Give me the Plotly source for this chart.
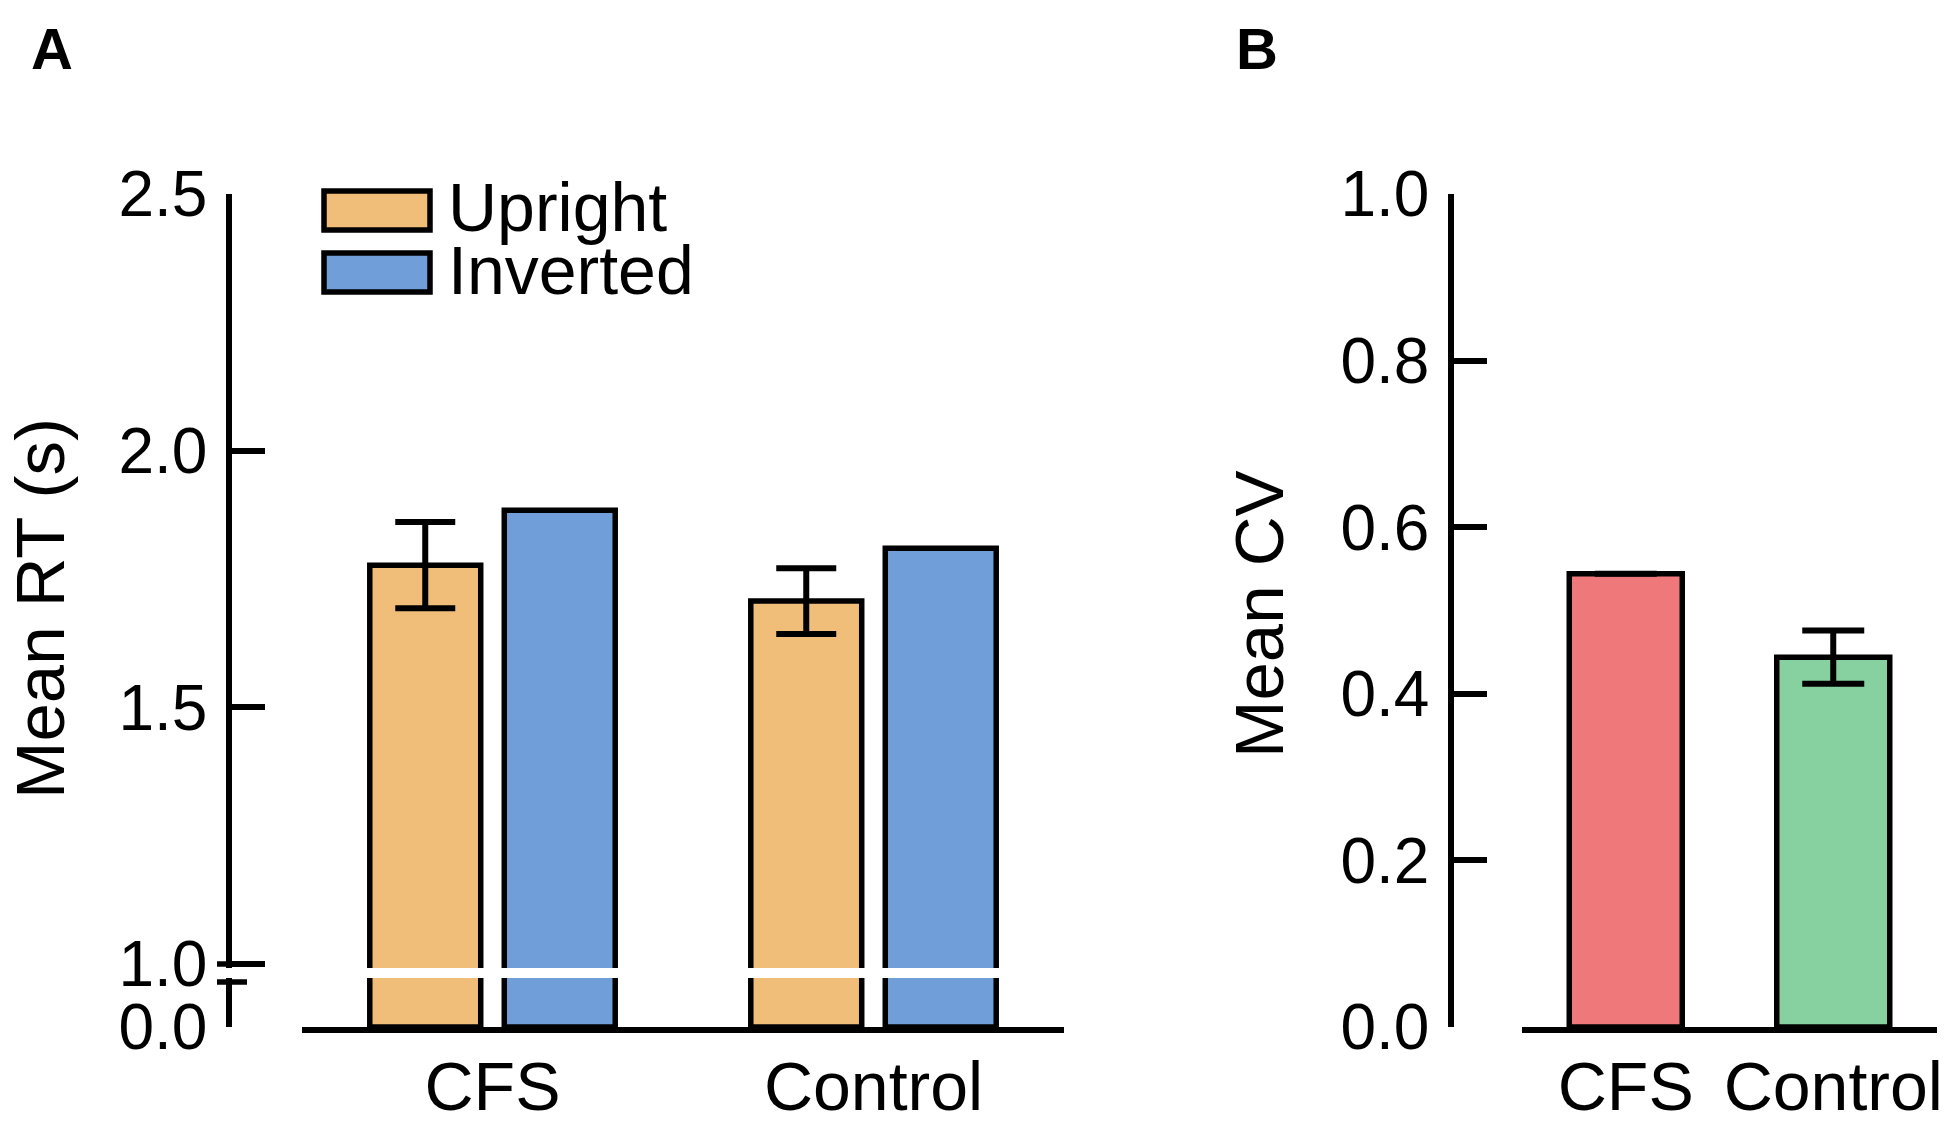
import plotly.graph_objects as go

# ---------------- data ----------------
groups_a = ["CFS", "Control"]
upright_rt = [1.777, 1.707]
upright_err = [0.084, 0.064]
inverted_rt = [1.884, 1.810]

groups_b = ["CFS", "Control"]
cv_values = [0.544, 0.444]
cv_err = [0.0, 0.032]

ytick_a_upper = [1.0, 1.5, 2.0, 2.5]
ytick_a_lower = [0.0]
ytick_b = [0.0, 0.2, 0.4, 0.6, 0.8, 1.0]

# ---------------- style ----------------
OFF = 8  # default page body margin
W, H = 1960 - 2 * OFF, 1125 - 2 * OFF
FONT = "Liberation Sans, Arial, Helvetica, sans-serif"
ORANGE = "#F1BE7A"
BLUE = "#6F9ED9"
RED = "#EF787B"
GREEN = "#87D1A1"
LW = 5.5


def px(x):
    return (x - OFF) / W


def py(y):
    return 1 - (y - OFF) / H


fig = go.Figure()

bar_line = dict(color="black", width=LW)
err_style = dict(type="data", color="black", thickness=6, width=30)

# Panel A - upper part of broken axis
fig.add_trace(go.Bar(x=groups_a, y=upright_rt, name="Upright", marker=dict(color=ORANGE, line=bar_line),
                     error_y=dict(array=upright_err, **err_style), xaxis="x2", yaxis="y2", showlegend=False))
fig.add_trace(go.Bar(x=groups_a, y=inverted_rt, name="Inverted", marker=dict(color=BLUE, line=bar_line),
                     xaxis="x2", yaxis="y2", showlegend=False))
# Panel A - lower part of broken axis
fig.add_trace(go.Bar(x=groups_a, y=upright_rt, name="Upright", marker=dict(color=ORANGE, line=bar_line),
                     xaxis="x", yaxis="y", showlegend=False))
fig.add_trace(go.Bar(x=groups_a, y=inverted_rt, name="Inverted", marker=dict(color=BLUE, line=bar_line),
                     xaxis="x", yaxis="y", showlegend=False))
# Panel B
fig.add_trace(go.Bar(x=groups_b, y=cv_values, marker=dict(color=[RED, GREEN], line=bar_line),
                     error_y=dict(array=cv_err, type="data", color="black", thickness=6, width=31,
                                  visible=True),
                     xaxis="x3", yaxis="y3", showlegend=False, width=113 / 207.5))

axis_common = dict(showgrid=False, zeroline=False, showline=True, linecolor="black", linewidth=LW,
                   automargin=False)
ytick_common = dict(ticks="inside", ticklen=33, tickwidth=LW, tickcolor="black",
                    tickfont=dict(family=FONT, size=64, color="black"), ticklabelstandoff=6)
xtick_common = dict(ticks="", tickfont=dict(family=FONT, size=68, color="black"), ticklabelstandoff=-4)

upper_lo = 2.5 - (968 - 194) / ((964 - 194) / 1.5)

fig.update_layout(
    template="none",
    width=W, height=H, autosize=False,
    margin=dict(l=0, r=0, t=0, b=0, pad=0),
    paper_bgcolor="white", plot_bgcolor="white",
    barmode="group", bargap=0.294, bargroupgap=0.175,
    font=dict(family=FONT, color="black"),
    showlegend=False,
    xaxis=dict(domain=[px(302), px(1064)], anchor="y", **axis_common, **xtick_common),
    yaxis=dict(domain=[py(1027), py(978)], range=[0, 0.1], anchor="free", position=px(229),
               tickvals=ytick_a_lower, ticktext=[f"{v:.1f}" for v in ytick_a_lower],
               **axis_common, **ytick_common),
    xaxis2=dict(domain=[px(302), px(1064)], anchor="y2", matches="x", visible=False),
    yaxis2=dict(domain=[py(968), py(194)], range=[upper_lo, 2.5], anchor="free", position=px(229),
                tickvals=ytick_a_upper, ticktext=[f"{v:.1f}" for v in ytick_a_upper],
                **axis_common, **ytick_common),
    xaxis3=dict(domain=[px(1522), px(1937)], anchor="y3", **axis_common, **xtick_common),
    yaxis3=dict(domain=[py(1027), py(194)], range=[0, 1.0], anchor="free", position=px(1451),
                tickvals=ytick_b, ticktext=[f"{v:.1f}" for v in ytick_b],
                **axis_common, **ytick_common),
)

shapes = [
    # axis break marks
    dict(type="line", xref="paper", yref="paper", x0=px(217), x1=px(232), y0=py(964), y1=py(964),
         line=dict(color="black", width=LW)),
    dict(type="line", xref="paper", yref="paper", x0=px(217), x1=px(247), y0=py(982), y1=py(982),
         line=dict(color="black", width=LW)),
    # legend swatches
    dict(type="rect", xref="paper", yref="paper", x0=px(324), x1=px(430), y0=py(191), y1=py(230),
         fillcolor=ORANGE, line=dict(color="black", width=LW)),
    dict(type="rect", xref="paper", yref="paper", x0=px(324), x1=px(430), y0=py(253), y1=py(292),
         fillcolor=BLUE, line=dict(color="black", width=LW)),
]

annotations = [
    dict(text="Upright", x=px(446), y=py(207), xref="paper", yref="paper", xanchor="left", yanchor="middle",
         showarrow=False, font=dict(family=FONT, size=68, color="black")),
    dict(text="Inverted", x=px(446), y=py(270), xref="paper", yref="paper", xanchor="left", yanchor="middle",
         showarrow=False, font=dict(family=FONT, size=68, color="black")),
    dict(text="Mean RT (s)", x=px(40), y=py(609), xref="paper", yref="paper", xanchor="center",
         yanchor="middle", textangle=-90, showarrow=False, font=dict(family=FONT, size=69, color="black")),
    dict(text="Mean CV", x=px(1259), y=py(614), xref="paper", yref="paper", xanchor="center",
         yanchor="middle", textangle=-90, showarrow=False, font=dict(family=FONT, size=69, color="black")),
    dict(text="<b>A</b>", x=px(52), y=py(48), xref="paper", yref="paper", xanchor="center",
         yanchor="middle", showarrow=False, font=dict(family=FONT, size=58, color="black")),
    dict(text="<b>B</b>", x=px(1257), y=py(48), xref="paper", yref="paper", xanchor="center",
         yanchor="middle", showarrow=False, font=dict(family=FONT, size=58, color="black")),
]

fig.update_layout(shapes=shapes, annotations=annotations)

fig.write_html("out.html")
